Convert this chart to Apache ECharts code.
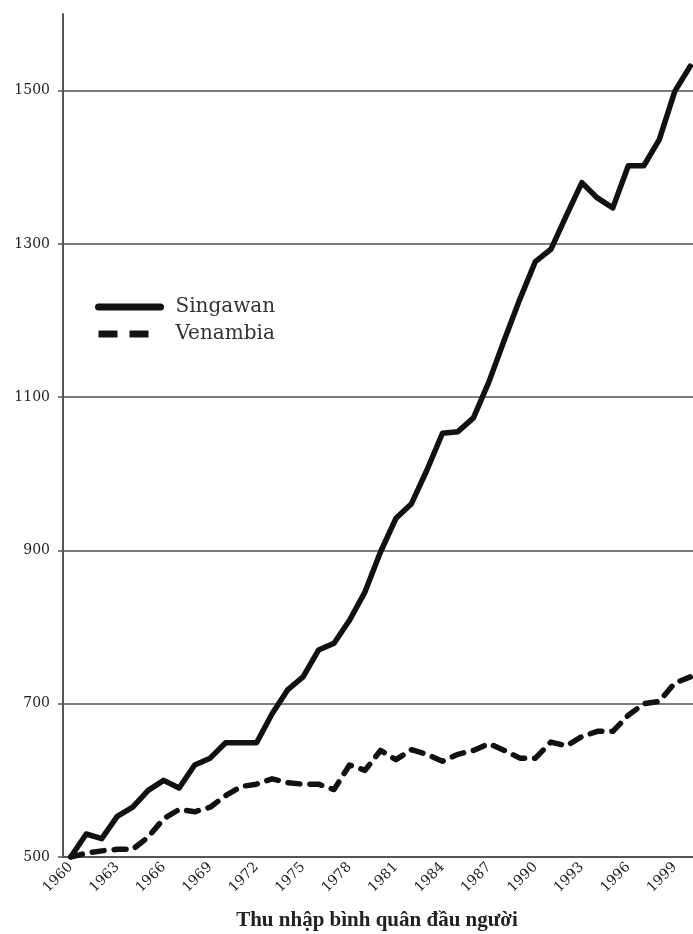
<!DOCTYPE html>
<html lang="vi">
<head>
  <meta charset="UTF-8">
  <title>Singawan - Venambia</title>
  <style>
    html, body { margin: 0; padding: 0; background: #fff; }
  </style>
</head>
<body>
  <div class="wrapper" style="width:693px;height:934px;"></div>

  <script src="https://cdn.jsdelivr.net/npm/echarts@6/dist/echarts.min.js"></script>
  <script>
    // years 1960..2000
    const years = ['1960', '1961', '1962', '1963', '1964', '1965', '1966', '1967', '1968', '1969',
      '1970', '1971', '1972', '1973', '1974', '1975', '1976', '1977', '1978', '1979',
      '1980', '1981', '1982', '1983', '1984', '1985', '1986', '1987', '1988', '1989',
      '1990', '1991', '1992', '1993', '1994', '1995', '1996', '1997', '1998', '1999', '2000']

    const singawan = [500, 530, 524, 553, 565, 587, 600, 590, 620, 629,
      649, 649, 649, 687, 718, 735, 770, 779, 809, 846,
      898, 942, 961, 1005, 1053, 1055, 1073, 1120, 1175, 1228,
      1277, 1293, 1337, 1380, 1360, 1347, 1402, 1402, 1436, 1499, 1532]

    const venambia = [500, 505, 508, 510, 510, 526, 550, 562, 559, 565,
      580, 592, 595, 602, 597, 595, 595, 588, 620, 613,
      639, 627, 640, 634, 625, 634, 639, 648, 639, 629,
      629, 650, 645, 657, 664, 664, 685, 700, 703, 727, 735]

    const yMin = 500
    const yMax = 1600
    const yStep = 200

    const serif = 'DejaVu Serif'

    const echart = echarts.init(document.querySelector('.wrapper'))
    const option = {
      backgroundColor: '#fff',
      animation: false,
      grid: {
        left: 63,
        right: -5,
        top: 14,
        bottom: 77,
        // keep the plot where it is, the axis name sits below it
        outerBoundsMode: 'none',
        containLabel: false
      },
      legend: {
        orient: 'vertical',
        left: 95,
        top: 297,
        padding: 0,
        itemWidth: 62,
        itemHeight: 16,
        itemGap: 7,
        // hide the marker dot, keep only the line sample
        itemStyle: { opacity: 0 },
        textStyle: {
          fontFamily: serif,
          fontSize: 20,
          color: '#333',
          padding: [0, 0, 4, 10]
        },
        data: [
          { name: 'Singawan', lineStyle: { width: 7 } },
          { name: 'Venambia', lineStyle: { width: 7, type: [19, 12], cap: 'butt' } }
        ]
      },
      xAxis: {
        type: 'category',
        data: years,
        boundaryGap: true,
        name: 'Thu nhập bình quân đầu người',
        nameLocation: 'middle',
        nameGap: 53,
        nameTextStyle: {
          fontFamily: 'Liberation Serif',
          fontWeight: 'bold',
          fontSize: 21,
          color: '#222',
          padding: [0, 7, 0, 0]
        },
        axisLine: { lineStyle: { color: '#555', width: 2 } },
        axisTick: { interval: 0, length: 5, lineStyle: { color: '#555', width: 1.5 } },
        axisLabel: {
          interval: 2,
          rotate: 45,
          margin: 8,
          fontFamily: serif,
          fontSize: 14,
          color: '#222'
        },
        splitLine: { show: false }
      },
      yAxis: {
        type: 'value',
        min: yMin,
        max: yMax,
        interval: yStep,
        axisLine: { show: true, lineStyle: { color: '#555', width: 2 } },
        axisTick: { show: true, length: 5, lineStyle: { color: '#555', width: 1.5 } },
        axisLabel: {
          margin: 13,
          fontFamily: serif,
          fontSize: 14,
          color: '#222',
          showMaxLabel: false,
          formatter: v => String(v)
        },
        splitLine: {
          show: true,
          showMinLine: false,
          showMaxLine: false,
          lineStyle: { color: '#7d7d7d', width: 2 }
        }
      },
      series: [
        {
          name: 'Singawan',
          type: 'line',
          data: singawan,
          symbol: 'none',
          color: '#111',
          lineStyle: { color: '#111', width: 5.5, join: 'round', cap: 'round' }
        },
        {
          name: 'Venambia',
          type: 'line',
          data: venambia,
          symbol: 'none',
          color: '#111',
          lineStyle: { color: '#111', width: 5.5, type: [12, 10], cap: 'round', join: 'round' }
        }
      ]
    }

    echart.setOption(option)
  </script>
</body>
</html>
